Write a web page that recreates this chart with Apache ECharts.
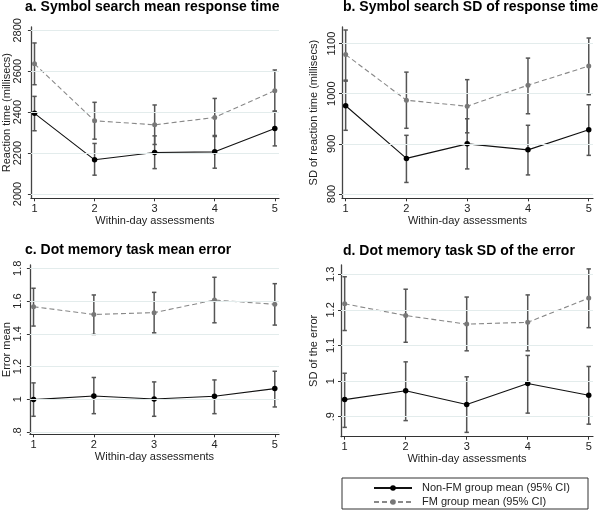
<!DOCTYPE html>
<html>
<head>
<meta charset="utf-8">
<script src="https://cdn.jsdelivr.net/npm/echarts@6/dist/echarts.min.js"></script>
<style>
html,body{margin:0;padding:0;background:#fff;}
#chart{width:600px;height:510px;}
</style>
</head>
<body>
<div id="chart"></div>
<script>
// ---- data ----
const assessments = [1, 2, 3, 4, 5];
const xTickLabels = [1, 2, 3, 4, 5];

// a. Symbol search mean response time
const aNonFM = [2394, 2167, 2203, 2206, 2320];
const aNonFMLo = [2309, 2092, 2124, 2126, 2235];
const aNonFMHi = [2477, 2247, 2284, 2286, 2405];
const aFM = [2636, 2358, 2338, 2374, 2505];
const aFMLo = [2534, 2268, 2242, 2281, 2404];
const aFMHi = [2738, 2448, 2435, 2467, 2606];
const aTicks = [2000, 2200, 2400, 2600, 2800];

// b. Symbol search SD of response time
const bNonFM = [976, 871, 900, 888, 928];
const bNonFMLo = [927, 823, 850, 838, 877];
const bNonFMHi = [1025, 917, 950, 937, 978];
const bFM = [1078, 987, 975, 1017, 1055];
const bFMLo = [1027, 931, 922, 960, 998];
const bFMHi = [1127, 1043, 1028, 1071, 1111];
const bTicks = [800, 900, 1000, 1100];

// c. Dot memory task mean error
const cNonFM = [0.998, 1.020, 1.002, 1.018, 1.065];
const cNonFMLo = [0.896, 0.912, 0.896, 0.912, 0.953];
const cNonFMHi = [1.100, 1.133, 1.106, 1.118, 1.171];
const cFM = [1.565, 1.518, 1.529, 1.606, 1.580];
const cFMLo = [1.447, 1.396, 1.406, 1.467, 1.453];
const cFMHi = [1.678, 1.637, 1.653, 1.745, 1.706];
const cTicks = [0.8, 1.0, 1.2, 1.4, 1.6, 1.8];

// d. Dot memory task SD of the error
const dNonFM = [0.948, 0.973, 0.934, 0.993, 0.960];
const dNonFMLo = [0.870, 0.889, 0.856, 0.910, 0.879];
const dNonFMHi = [1.022, 1.054, 1.012, 1.072, 1.041];
const dFM = [1.217, 1.184, 1.160, 1.165, 1.233];
const dFMLo = [1.142, 1.109, 1.085, 1.085, 1.150];
const dFMHi = [1.293, 1.258, 1.236, 1.242, 1.315];
const dTicks = [0.9, 1.0, 1.1, 1.2, 1.3];

const titles = [
  'a. Symbol search mean response time',
  'b. Symbol search SD of response time',
  'c. Dot memory task mean error',
  'd. Dot memory task SD of the error'
];
const yNames = [
  'Reaction time (millisecs)',
  'SD of reaction time (millisecs)',
  'Error mean',
  'SD of the error'
];
const xName = 'Within-day assessments';
const nonFMName = 'Non-FM group mean (95% CI)';
const fmName = 'FM group mean (95% CI)';

// ---- layout ----
const FONT = 'Liberation Sans, Arial, sans-serif';
const panels = [
  {grid:{left:27, top:27, width:252, height:171.3}, y:[1979, 2816], ticks:aTicks,
   nf:aNonFM, nfLo:aNonFMLo, nfHi:aNonFMHi, fm:aFM, fmLo:aFMLo, fmHi:aFMHi,
   title:{left:25, top:0}, lblMargin:7, nameGap:16},
  {grid:{left:342, top:27, width:251, height:171.3}, y:[791.4, 1133], ticks:bTicks,
   nf:bNonFM, nfLo:bNonFMLo, nfHi:bNonFMHi, fm:bFM, fmLo:bFMLo, fmHi:bFMHi,
   title:{left:343, top:0}, lblMargin:5, nameGap:23},
  {grid:{left:26, top:265, width:253, height:169.3}, y:[0.786, 1.82], ticks:cTicks,
   nf:cNonFM, nfLo:cNonFMLo, nfHi:cNonFMHi, fm:cFM, fmLo:cFMLo, fmHi:cFMHi,
   title:{left:25, top:243}, lblMargin:6, nameGap:16},
  {grid:{left:341, top:265, width:252, height:171.7}, y:[0.8438, 1.326], ticks:dTicks,
   nf:dNonFM, nfLo:dNonFMLo, nfHi:dNonFMHi, fm:dFM, fmLo:dFMLo, fmHi:dFMHi,
   title:{left:343, top:244}, lblMargin:5, nameGap:22}
];

function fmtTick(v){
  let s = String(Math.round(v * 1000) / 1000);
  if (s.startsWith('0.')) s = s.slice(1);
  return s;
}

function errRender(params, api){
  const x = api.value(0), lo = api.value(1), hi = api.value(2);
  const p1 = api.coord([x, lo]);
  const p2 = api.coord([x, hi]);
  const cw = 2.2;
  const st = {stroke:'#555', lineWidth:1.5};
  return {type:'group', children:[
    {type:'line', shape:{x1:p1[0], y1:p1[1], x2:p2[0], y2:p2[1]}, style:st},
    {type:'line', shape:{x1:p1[0]-cw, y1:p1[1], x2:p1[0]+cw, y2:p1[1]}, style:st},
    {type:'line', shape:{x1:p2[0]-cw, y1:p2[1], x2:p2[0]+cw, y2:p2[1]}, style:st}
  ]};
}

const grid = [], xAxis = [], yAxis = [], series = [], title = [];
panels.forEach((p, i) => {
  grid.push(p.grid);
  title.push({text:titles[i], left:p.title.left, top:p.title.top, padding:0,
    textStyle:{fontFamily:FONT, fontSize:14, fontWeight:'bold', color:'#000'}});
  xAxis.push({type:'value', gridIndex:i, min:0.94, max:5.07,
    name:xName, nameLocation:'middle', nameGap:15,
    nameTextStyle:{fontFamily:FONT, fontSize:11, color:'#222'},
    axisLine:{show:true, onZero:false, lineStyle:{color:'#333', width:1.2}},
    axisTick:{show:true, length:3, customValues:assessments, lineStyle:{color:'#333'}},
    axisLabel:{customValues:xTickLabels, margin:5, fontFamily:FONT, fontSize:11, color:'#222'},
    splitLine:{show:false}});
  yAxis.push({type:'value', gridIndex:i, min:p.y[0], max:p.y[1],
    name:yNames[i], nameLocation:'middle', nameGap:p.nameGap, nameRotate:90,
    nameTextStyle:{fontFamily:FONT, fontSize:11, color:'#222'},
    axisLine:{show:true, onZero:false, lineStyle:{color:'#444', width:1.3}},
    axisTick:{show:true, length:3, customValues:p.ticks, lineStyle:{color:'#333'}},
    axisLabel:{customValues:p.ticks, rotate:90, margin:p.lblMargin, fontFamily:FONT, fontSize:11, color:'#222',
      formatter:fmtTick},
    splitLine:{show:false}});
  // gridlines via markLine at tick values
  series.push({type:'line', xAxisIndex:i, yAxisIndex:i, data:[], silent:true, z:0,
    markLine:{silent:true, symbol:'none', label:{show:false},
      lineStyle:{color:'#e3ecec', width:1, type:'solid'},
      emphasis:{disabled:true},
      data:p.ticks.map(t => ({yAxis:t}))}});
  series.push({type:'custom', xAxisIndex:i, yAxisIndex:i, z:2, silent:true,
    renderItem:errRender, encode:{x:0, y:[1,2]},
    data:assessments.map((x, k) => [x, p.nfLo[k], p.nfHi[k]])});
  series.push({type:'custom', xAxisIndex:i, yAxisIndex:i, z:2, silent:true,
    renderItem:errRender, encode:{x:0, y:[1,2]},
    data:assessments.map((x, k) => [x, p.fmLo[k], p.fmHi[k]])});
  series.push({type:'line', name:fmName, xAxisIndex:i, yAxisIndex:i, z:3,
    data:assessments.map((x, k) => [x, p.fm[k]]),
    symbol:'circle', symbolSize:5,
    itemStyle:{color:'#777'},
    lineStyle:{color:'#888', width:1.1, type:[5,3]}});
  series.push({type:'line', name:nonFMName, xAxisIndex:i, yAxisIndex:i, z:4,
    data:assessments.map((x, k) => [x, p.nf[k]]),
    symbol:'circle', symbolSize:5.5,
    itemStyle:{color:'#000'},
    lineStyle:{color:'#111', width:1.1, type:'solid'}});
});

const chart = echarts.init(document.getElementById('chart'), null, {renderer:'canvas'});
chart.setOption({
  animation:false,
  backgroundColor:'#fff',
  title:title,
  grid:grid,
  xAxis:xAxis,
  yAxis:yAxis,
  series:series,
  legend:{data:[nonFMName, fmName], orient:'vertical', left:373, top:482.5, padding:0,
    itemWidth:38, itemHeight:7, itemGap:3,
    textStyle:{fontFamily:FONT, fontSize:11, color:'#222', padding:[0,0,0,5]}},
  graphic:[{type:'rect', shape:{x:342, y:478, width:246, height:31},
    style:{fill:'none', stroke:'#333', lineWidth:1}}]
});
</script>
</body>
</html>
